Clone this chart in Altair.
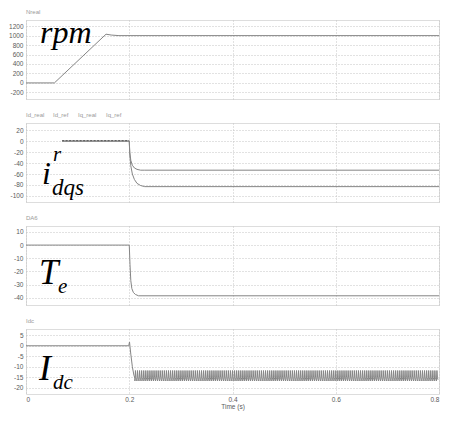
import altair as alt
import pandas as pd

# ---------------- data ----------------
x_ticks = [0, 0.2, 0.4, 0.6, 0.8]

rpm_t = [0, 0.055, 0.155, 0.165, 0.18, 0.8]
rpm_v = [0, 0, 1030, 1012, 1000, 1000]

idq_t = [0.07, 0.2, 0.201, 0.203, 0.206, 0.21, 0.215, 0.222, 0.23, 0.8]
id_v = [0, 0, -20, -35, -44, -49, -51.5, -53, -53, -53]
iq_v = [0, 0, -25, -45, -60, -70, -77, -81, -83, -83]
ref_t = [0.07, 0.2]
ref_v = [0.8, 0.8]

te_t = [0, 0.2, 0.2015, 0.203, 0.205, 0.208, 0.212, 0.218, 0.8]
te_v = [0, 0, -15, -27, -33, -36, -37.5, -38.5, -38.5]

idc_t = [0, 0.199, 0.2005, 0.203, 0.206, 0.209, 0.211]
idc_v = [0, 0, 1.8, -4, -10, -14, -15.5]
ripple_start = 0.211
ripple_end = 0.8
ripple_period = 0.004
ripple_cycle = [-16.8, -11.8, -15.2, -16.2]

# build ripple by repeating the cycle
rt, rv = list(idc_t), list(idc_v)
k = 0
while ripple_start + (k + 1) * ripple_period <= ripple_end:
    for j, v in enumerate(ripple_cycle):
        rt.append(ripple_start + k * ripple_period + j * ripple_period / len(ripple_cycle))
        rv.append(v)
    k += 1

LINE = "#858585"
LBL = "#5a5a5a"
W = 413
FONT = "Liberation Sans"
SERIF = "Liberation Serif"


def xenc(show):
    return alt.X(
        "t:Q",
        scale=alt.Scale(domain=[0, 0.8], nice=False, zero=False),
        axis=alt.Axis(
            values=x_ticks,
            labels=show,
            title="Time (s)" if show else None,
            ticks=False,
            domain=False,
            grid=True,
            gridColor="#c4c4c4",
            gridDash=[1, 2],
            labelExpr="'' + datum.value",
            labelFlush=True,
            labelFontSize=6.5,
            labelColor=LBL,
            labelFont=FONT,
            labelPadding=2,
            titleFont=FONT,
            titleFontSize=6.5,
            titleFontWeight="normal",
            titleColor=LBL,
            titlePadding=1,
        ),
    )


def yenc(domain, ticks):
    return alt.Y(
        "v:Q",
        scale=alt.Scale(domain=domain, nice=False, zero=False),
        axis=alt.Axis(
            values=ticks,
            title=None,
            ticks=False,
            domain=False,
            grid=True,
            gridColor="#c4c4c4",
            gridDash=[1, 2],
            labelExpr="'' + datum.value",
            labelFontSize=6.5,
            labelColor=LBL,
            labelFont=FONT,
            labelPadding=3,
        ),
    )


def line_layer(t, v, domain, ticks, show, dash=None, color=LINE):
    df = pd.DataFrame({"t": t, "v": v})
    kw = dict(color=color, strokeWidth=1, clip=True)
    if dash:
        kw["strokeDash"] = dash
    return alt.Chart(df).mark_line(**kw).encode(x=xenc(show), y=yenc(domain, ticks))


def txt(text, x, y, size, font=FONT, style="normal", color="#000000", baseline="alphabetic"):
    return alt.Chart(pd.DataFrame({"a": [0]})).mark_text(
        text=text, font=font, fontSize=size, fontStyle=style, color=color,
        align="left", baseline=baseline,
    ).encode(x=alt.value(x), y=alt.value(y))


def ttl(text, x):
    return txt(text, x, -8, 6, color="#9a9a9a", baseline="middle")


# Panel 1: rpm
d1 = [-340, 1330]
t1 = list(range(-200, 1201, 200))
p1 = alt.layer(
    line_layer(rpm_t, rpm_v, d1, t1, False),
    ttl("Nreal", 0),
    txt("rpm", 14, 23, 32, SERIF, "italic"),
).properties(width=W, height=79)

# Panel 2: idq
d2 = [-111, 33]
t2 = list(range(-100, 21, 20))
p2 = alt.layer(
    line_layer(idq_t, id_v, d2, t2, False),
    line_layer(idq_t, iq_v, d2, t2, False),
    line_layer(ref_t, ref_v, d2, t2, False, dash=[2, 1.5], color="#555555"),
    ttl("Id_real", 0), ttl("Id_ref", 27), ttl("Iq_real", 52), ttl("Iq_ref", 80),
    txt("i", 16, 61, 32, SERIF, "italic"),
    txt("r", 27, 38, 21, SERIF, "italic"),
    txt("dqs", 26, 72, 23, SERIF, "italic"),
).properties(width=W, height=79)

# Panel 3: Te
d3 = [-45.5, 14.5]
t3 = list(range(-40, 11, 10))
p3 = alt.layer(
    line_layer(te_t, te_v, d3, t3, False),
    ttl("DA6", 0),
    txt("T", 13, 58, 35, SERIF, "italic"),
    txt("e", 32, 67, 21, SERIF, "italic"),
).properties(width=W, height=79)

# Panel 4: Idc
d4 = [-23, 8]
t4 = list(range(-20, 6, 5))
p4 = alt.layer(
    line_layer(rt, rv, d4, t4, True),
    ttl("Idc", 0),
    txt("I", 13, 51, 36, SERIF, "italic"),
    txt("dc", 27, 60, 21, SERIF, "italic"),
).properties(width=W, height=65)

chart = alt.vconcat(p1, p2, p3, p4, spacing=24, bounds="flush").configure_view(
    stroke="#a0a0a0", strokeWidth=1.5
).configure(background="white", padding={"left": 0, "top": 0, "right": 0, "bottom": 0})

chart.save("out.html", embed_options={"renderer": "svg", "actions": False})
